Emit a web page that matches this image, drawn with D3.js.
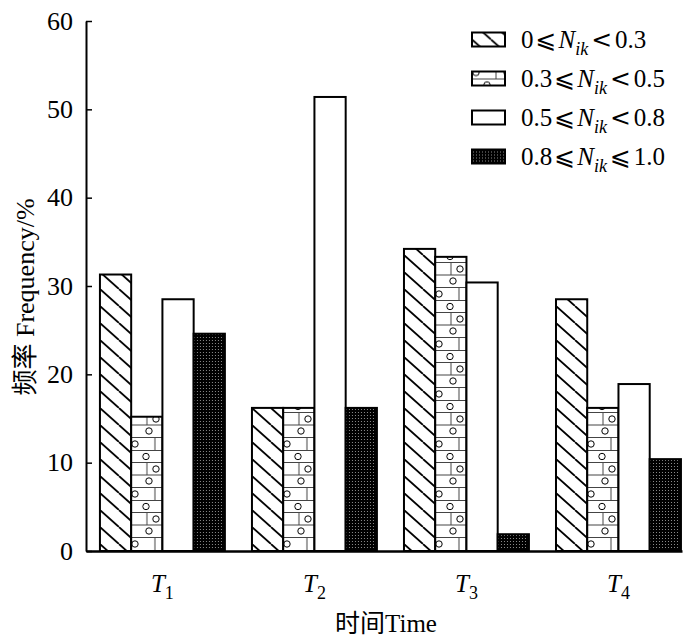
<!DOCTYPE html>
<html>
<head>
<meta charset="utf-8">
<script src="https://cdn.jsdelivr.net/npm/d3@7"></script>
<style>
  body{margin:0;background:#fff;}
  svg{display:block;font-family:"Liberation Serif","DejaVu Serif","Noto Sans CJK SC",serif;}
</style>
</head>
<body>
<svg width="700" height="644"></svg>
<script>
// periods on the x axis (letter + subscript)
let periods=["T1","T2","T3","T4"];
let seriesKeys=["s1","s2","s3","s4"];
// legend labels: low ⩽ N_ik rel high
let legendLow=["0","0.3","0.5","0.8"];
let legendRel2=["<","<","<","⩽"];
let legendHigh=["0.3","0.5","0.8","1.0"];
// frequency %, one array per N_ik class
let s1=[31.3,16.2,34.2,28.5];
let s2=[15.2,16.2,33.3,16.2];
let s3=[28.5,51.4,30.4,18.9];
let s4=[24.6,16.2,1.9,10.4];
let yTicks=[0,10,20,30,40,50,60];

let seriesVals={s1:s1,s2:s2,s3:s3,s4:s4};
let fills={s1:"url(#hatch)",s2:"url(#brick)",s3:"#fff",s4:"url(#dots)"};

var svg=d3.select("svg");
var plotLeft=86,plotRight=682,plotTop=21,plotBottom=551;

// patterns
var defs=svg.append("defs");
var ph=defs.append("pattern").attr("id","hatch").attr("patternUnits","userSpaceOnUse")
  .attr("width",19).attr("height",17);
ph.append("rect").attr("width",19).attr("height",17).attr("fill","#fff");
ph.append("path").attr("d","M-19,0L0,17M0,0L19,17M19,0L38,17")
  .attr("stroke","#000").attr("stroke-width",1.8);

var pb=defs.append("pattern").attr("id","brick").attr("patternUnits","userSpaceOnUse")
  .attr("width",31).attr("height",50);
pb.append("rect").attr("width",31).attr("height",50).attr("fill","#fff");
pb.append("path").attr("d","M0,0.5H31M0,12.5H31M0,25H31M0,37.5H31M16,12.5V25M24,37.5V50")
  .attr("stroke","#444").attr("stroke-width",1).attr("fill","none");
[[15,6.5],[18,31],[4,44],[25,19]].forEach(function(c){
  pb.append("circle").attr("cx",c[0]).attr("cy",c[1]).attr("r",3.2)
    .attr("fill","#fff").attr("stroke","#000").attr("stroke-width",1);
});

var pd=defs.append("pattern").attr("id","dots").attr("patternUnits","userSpaceOnUse")
  .attr("width",3).attr("height",3);
pd.append("rect").attr("width",3).attr("height",3).attr("fill","#000");
pd.append("rect").attr("x",1).attr("y",1).attr("width",1).attr("height",1).attr("fill","#8a8a8a");

// scales
var x0=d3.scaleBand().domain(periods).range([plotLeft,plotRight])
  .paddingInner(0.178).paddingOuter(0.0493).align(0.93);
var x1=d3.scaleBand().domain(seriesKeys).range([0,x0.bandwidth()]);
var y=d3.scaleLinear().domain([0,60]).range([plotBottom,plotTop]);

// bars
var groups=svg.append("g").selectAll("g")
  .data(periods).enter().append("g")
  .attr("transform",function(d){return "translate("+x0(d)+",0)";});

groups.selectAll("rect")
  .data(function(d,i){return seriesKeys.map(function(k){return {key:k,value:seriesVals[k][i]};});})
  .enter().append("rect")
  .attr("x",function(d){return x1(d.key);})
  .attr("y",function(d){return y(d.value);})
  .attr("width",x1.bandwidth())
  .attr("height",function(d){return y(0)-y(d.value);})
  .attr("fill",function(d){return fills[d.key];})
  .attr("stroke","#000")
  .attr("stroke-width",2);

// y axis
var ya=svg.append("g").attr("transform","translate("+plotLeft+",0)")
  .call(d3.axisLeft(y).tickValues(yTicks).tickSizeInner(-6).tickSizeOuter(0).tickPadding(13));
ya.select(".domain").attr("stroke-width",2);
ya.selectAll(".tick line").attr("stroke-width",1.5);
ya.selectAll("text").attr("font-size",26).attr("font-family","Liberation Serif").attr("fill","#000");

// x axis
var xa=svg.append("g").attr("transform","translate(0,"+plotBottom+")")
  .call(d3.axisBottom(x0).tickSize(0).tickPadding(0));
xa.select(".domain").attr("stroke-width",2.5);
xa.selectAll("text").each(function(d){
  var t=d3.select(this).text("").attr("y",41).attr("dy",0)
    .attr("font-size",25).attr("font-family","Liberation Serif").attr("fill","#000");
  t.append("tspan").attr("font-style","italic").text(d.charAt(0));
  t.append("tspan").attr("font-size",18).attr("dy",7).text(d.slice(1));
});

// axis titles
svg.append("text")
  .attr("transform","translate(34,297) rotate(-90)")
  .attr("text-anchor","middle")
  .attr("font-size",26)
  .text("频率 Frequency/%");

svg.append("text")
  .attr("x",386).attr("y",632)
  .attr("text-anchor","middle")
  .attr("font-size",25)
  .text("时间Time");

// legend
var lg=svg.append("g").selectAll("g")
  .data(seriesKeys).enter().append("g")
  .attr("transform",function(d,i){return "translate(472,"+(39.5+i*39)+")";});
lg.append("rect").attr("x",0).attr("y",-7).attr("width",33).attr("height",14)
  .attr("fill",function(d){return fills[d];})
  .attr("stroke","#000").attr("stroke-width",2);
lg.append("text").attr("x",49).attr("y",8).attr("font-size",25)
  .each(function(d,i){
    var t=d3.select(this);
    t.append("tspan").text(legendLow[i]);
    t.append("tspan").attr("font-family","DejaVu Sans").attr("dx",2).text("⩽");
    t.append("tspan").attr("font-style","italic").attr("dx",2).text("N");
    t.append("tspan").attr("font-style","italic").attr("font-size",18).attr("dy",7).text("ik");
    t.append("tspan").attr("font-family","DejaVu Sans").attr("dy",-7).attr("dx",3).text(legendRel2[i]);
    t.append("tspan").attr("dx",3).text(legendHigh[i]);
  });
</script>
</body>
</html>
